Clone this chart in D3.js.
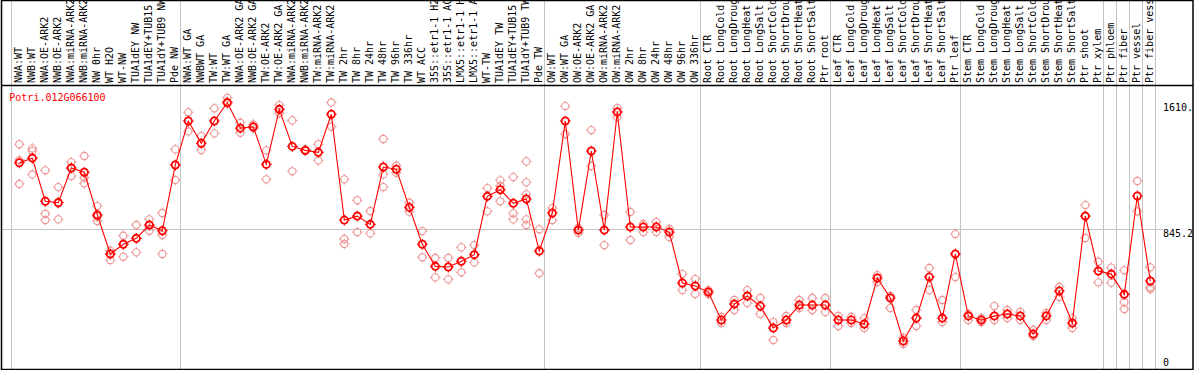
<!DOCTYPE html>
<html><head><meta charset="utf-8">
<script src="https://cdn.jsdelivr.net/npm/d3@7"></script>
<style>
html,body{margin:0;padding:0;background:#fff;}
svg{display:block;}
text{font-family:"DejaVu Sans Mono",monospace;font-size:10px;}
</style></head>
<body>
<svg id="chart" width="1194" height="370"></svg>
<script>
const geneId = "Potri.012G066100";
const categories = ["NWA:WT","NWB:WT","NWA:OE-ARK2","NWB:OE-ARK2","NWA:miRNA-ARK2","NWB:miRNA-ARK2","NW 0hr","WT H2O","WT-NW","TUA1dEY NW","TUA1dEY+TUB15","TUA1dY+TUB9 NW","Pde NW",
"NWA:WT GA","NWBWT GA","TW:WT","TW:WT GA","NWA:OE-ARK2 GA","NWB:OE-ARK2 GA","TW:OE-ARK2","TW:OE-ARK2 GA","NWA:miRNA-ARK2","NWB:miRNA-ARK2","TW:miRNA-ARK2","TW:miRNA-ARK2","TW 2hr","TW 8hr","TW 24hr","TW 48hr","TW 96hr","TW 336hr","WT ACC","35S::etr1-1 H2","35S::etr1-1 AC","LMX5::etr1-1 H","LMX5::etr1-1 A","WT-TW","TUA1dEY TW","TUA1dEY+TUB15","TUA1dY+TUB9 TW","Pde TW",
"OW:WT","OW:WT GA","OW:OE-ARK2","OW:OE-ARK2 GA","OW:miRNA-ARK2","OW:miRNA-ARK2","OW 2hr","OW 8hr","OW 24hr","OW 48hr","OW 96hr","OW 336hr",
"Root CTR","Root LongCold","Root LongDroug","Root LongHeat","Root LongSalt","Root ShortCold","Root ShortDrou","Root ShortHeat","Root ShortSalt","Ptr root",
"Leaf CTR","Leaf LongCold","Leaf LongDroug","Leaf LongHeat","Leaf LongSalt","Leaf ShortCold","Leaf ShortDrou","Leaf ShortHeat","Leaf ShortSalt","Ptr leaf",
"Stem CTR","Stem LongCold","Stem LongDroug","Stem LongHeat","Stem LongSalt","Stem ShortCold","Stem ShortDrou","Stem ShortHeat","Stem ShortSalt","Ptr shoot",
"Ptr xylem","Ptr phloem","Ptr fiber","Ptr vessel","Ptr fiber vess"];
const means = [1246,1274,1012,1003,1214,1188,929,692,751,787,868,833,1232,
1499,1364,1499,1610,1456,1464,1236,1570,1345,1321,1309,1540,898,922,872,1220,1206,975,751,617,613,648,688,1042,1082,1000,1026,710,
941,1499,837,1317,837,1554,856,856,856,825,516,498,
461,291,388,437,376,243,291,382,382,382,
291,291,267,546,425,164,303,552,303,692,
316,291,316,328,316,206,316,467,273,922,
589,570,447,1044,528];
const replicates = [[1358,1262,1117],[1333,1317,1175],[1200,936,898],[1098,902,1008],[1250,1165,1214],[1287,1155,1121],[983,918,892],[712,655,692],[803,675,751],[868,702,787],[902,833,868],[941,807,692],[1327,1141,1232],
[1552,1436],[1408,1323],[1576,1424],[1640,1616],[1489,1428],[1479,1455],[1321,1145],[1596,1546],[1503,1194],[1327,1317],[1358,1260],[1612,1464],[1145,783,753],[1018,825],[953,817],[1390,1175,1098],[1228,1185],[1003,949],[831,672],[668,550],[668,538],[732,581],[746,641],[1092,951],[1139,1106,1012],[1159,939,902],[1254,1127,1054,902,868],[842,575],
[971,898],[1590,1420],[850,819],[1444,1226],[929,746],[1578,1523],[947,777],[874,825],[886,825],[844,795],[570,473],[540,449],
[473,449],[310,273],[413,352],[473,394],[425,328],[279,170],[316,273],[413,364],[425,352],[425,340],
[316,255],[310,273],[303,243],[564,522],[437,364],[182,146],[352,255],[607,473],[413,279],[813,552],
[328,291],[303,279],[376,291],[352,303],[340,291],[231,194],[334,291],[492,431],[303,243],[989,789],
[645,520],[609,518],[593,399,358],[1135,951],[611,490,479]];
const gridBreaks = [0,13,41,53,63,73,84,85,86,87,88];
const axisLabels = [{v:1610.4,t:"1610."},{v:845.2,t:"845.2"},{v:0,t:"0"}];

const svg = d3.select("#chart");
const W = 1194, H = 370;
const idx = d3.range(categories.length);
const x = d3.scaleBand().domain(idx).range([10.7, 10.7 + 13*categories.length]).padding(0);
const px = i => x(i) + 8.6;
const y = d3.scaleLinear().domain([0, 1610.4]).range([368, 102.7]);
const grey = "#c4c4c4";

// vertical grid lines
svg.append("g").selectAll("line").data(gridBreaks).join("line")
  .attr("x1", k => Math.round(10.7 + 13*k) + 0.5).attr("x2", k => Math.round(10.7 + 13*k) + 0.5)
  .attr("y1", 0).attr("y2", H).attr("stroke", grey).attr("stroke-width", 1);

// horizontal mid line
svg.append("line").attr("x1", 2).attr("x2", 1163)
  .attr("y1", Math.round(y(845.2)) + 0.5).attr("y2", Math.round(y(845.2)) + 0.5)
  .attr("stroke", grey).attr("stroke-width", 1);

// category labels (rotated)
svg.append("g").selectAll("text").data(idx).join("text")
  .attr("transform", i => `translate(${x(i) + 11.4},83) rotate(-90)`)
  .attr("fill", "#000")
  .text(i => categories[i]);

// header separator and border
svg.append("line").attr("x1", 1).attr("x2", 1193).attr("y1", 85.5).attr("y2", 85.5).attr("stroke", "#000").attr("stroke-width", 1.5);
svg.append("rect").attr("x", 1.5).attr("y", 0.5).attr("width", 1191.5).attr("height", 369)
  .attr("fill", "none").attr("stroke", "#000").attr("stroke-width", 1.5);

// right axis labels
svg.append("g").selectAll("text").data(axisLabels).join("text")
  .attr("x", 1163)
  .attr("y", d => d.v === 0 ? 366 : y(d.v) + 8)
  .attr("fill", "#000")
  .text(d => d.t);

// gene id
svg.append("text").attr("x", 9.3).attr("y", 100.5).attr("fill", "#ff0000").text(geneId);

function spikes(g, cx, cy, r, color, w) {
  [[0,-1],[0,1],[-1,0],[1,0]].forEach(([dx,dy]) => {
    g.append("line")
      .attr("x1", cx + dx*r).attr("y1", cy + dy*r)
      .attr("x2", cx + dx*(r+1.6)).attr("y2", cy + dy*(r+1.6))
      .attr("stroke", color).attr("stroke-width", w);
  });
}

// replicates
const repColor = "#ee9494";
const gRep = svg.append("g");
replicates.forEach((reps, i) => {
  reps.forEach(v => {
    const cx = px(i), cy = y(v);
    gRep.append("circle").attr("cx", cx).attr("cy", cy).attr("r", 3.6)
      .attr("fill", "none").attr("stroke", repColor).attr("stroke-width", 1.1);
    spikes(gRep, cx, cy, 3.6, repColor, 1);
  });
});

// mean line
const line = d3.line().x((d, i) => px(i)).y(d => y(d));
svg.append("path").datum(means).attr("d", line).attr("fill", "none")
  .attr("stroke", "#ff0000").attr("stroke-width", 1.1);

// mean circles
const gMean = svg.append("g");
means.forEach((v, i) => {
  const cx = px(i), cy = y(v);
  gMean.append("circle").attr("cx", cx).attr("cy", cy).attr("r", 3.6)
    .attr("fill", "none").attr("stroke", "#ff0000").attr("stroke-width", 1.8);
  spikes(gMean, cx, cy, 3.8, "#ff0000", 1.1);
});
</script>
</body></html>
